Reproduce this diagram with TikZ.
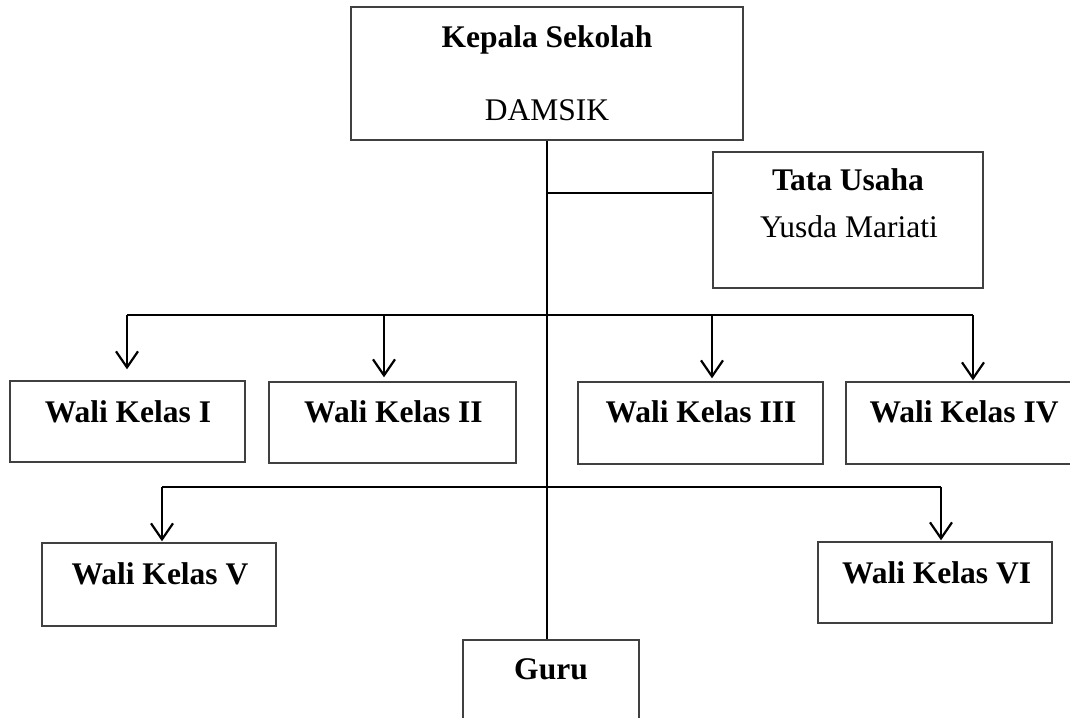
\documentclass[tikz,border=0pt]{standalone}
\usepackage{fontspec}
\setmainfont{Liberation Serif}
\usetikzlibrary{arrows.meta}
\begin{document}
\begin{tikzpicture}[x=1pt,y=-1pt,
  boxnode/.style={draw=black!75, line width=1.4pt, rectangle, inner sep=0pt, fill=none},
  lbl/.style={anchor=base, inner sep=0pt, font=\fontsize{31.5pt}{36pt}\selectfont},
  conn/.style={line width=2.2pt, black},
  arr/.style={line width=2.2pt, black, -{Straight Barb[length=16pt,width=22pt]}}]
\useasboundingbox (0,0) rectangle (1070,717);
\clip (0,0) rectangle (1070,717);
% boxes
\node[boxnode, minimum width=392pt, minimum height=133pt] (k) at (547,73.5) {};
\node[boxnode, minimum width=270pt, minimum height=136pt] (tu) at (848,220) {};
\node[boxnode, minimum width=235pt, minimum height=81pt] (w1) at (127.5,421.5) {};
\node[boxnode, minimum width=247pt, minimum height=81pt] (w2) at (392.5,422.5) {};
\node[boxnode, minimum width=245pt, minimum height=82pt] (w3) at (700.5,423) {};
\node[boxnode, minimum width=236pt, minimum height=82pt] (w4) at (964,423) {};
\node[boxnode, minimum width=234pt, minimum height=83pt] (w5) at (159,584.5) {};
\node[boxnode, minimum width=234pt, minimum height=81pt] (w6) at (935,582.5) {};
\node[boxnode, minimum width=176pt, minimum height=120pt] (g) at (551,700) {};
% texts
\node[lbl] (tk1) at (547,48) {\textbf{Kepala Sekolah}};
\node[lbl] (tk2) at (547,120) {DAMSIK};
\node[lbl] (tt1) at (848,190) {\textbf{Tata Usaha}};
\node[lbl] (tt2) at (849,237) {Yusda Mariati};
\node[lbl] (t1) at (128,422) {\textbf{Wali Kelas I}};
\node[lbl] (t2) at (393.5,422) {\textbf{Wali Kelas II}};
\node[lbl] (t3) at (701,422) {\textbf{Wali Kelas III}};
\node[lbl] (t4) at (964,422) {\textbf{Wali Kelas IV}};
\node[lbl] (t5) at (160,584) {\textbf{Wali Kelas V}};
\node[lbl] (t6) at (936.5,583) {\textbf{Wali Kelas VI}};
\node[lbl] (tg) at (551,679) {\textbf{Guru}};
% connectors
\draw[conn] (k.south) -- (k.south |- g.north);
\coordinate (jt) at (547,193);
\draw[conn] (jt) -- (jt -| tu.west);
\coordinate (b1) at (127,315);
\coordinate (b2) at (384,315);
\coordinate (b3) at (712,315);
\coordinate (b4) at (973,315);
\draw[conn] (b1) -- (b4);
\draw[arr, shorten >=11pt] (b1) -- (b1 |- w1.north);
\draw[arr, shorten >=4pt] (b2) -- (b2 |- w2.north);
\draw[arr, shorten >=3pt] (b3) -- (b3 |- w3.north);
\draw[arr, shorten >=1pt] (b4) -- (b4 |- w4.north);
\coordinate (c5) at (162,487);
\coordinate (c6) at (941,487);
\draw[conn] (c5) -- (c6);
\draw[arr, shorten >=1pt] (c5) -- (c5 |- w5.north);
\draw[arr, shorten >=1pt] (c6) -- (c6 |- w6.north);
\end{tikzpicture}
\end{document}
